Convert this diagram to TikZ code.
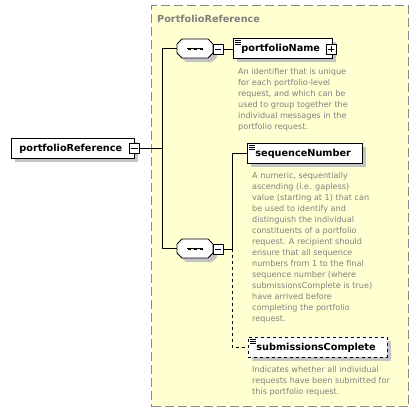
\documentclass[tikz,border=0pt]{standalone}
\usepackage{fontspec}
\setmainfont{DejaVu Sans}
\definecolor{panel}{HTML}{FFFFD2}
\definecolor{panelborder}{HTML}{8A8A8A}
\definecolor{desc}{HTML}{808080}
\definecolor{shade}{HTML}{C4C4C4}
\begin{document}
\begin{tikzpicture}[x=1pt,y=-1pt,
  shadowed/.style={preaction={fill=shade, transform canvas={xshift=4pt,yshift=-4pt}}},
  elem/.style={draw=black, line width=0.9pt, fill=white, anchor=north west, inner xsep=8pt, inner ysep=0pt,
    minimum height=20pt, align=left, font=\fontsize{9.7}{11}\selectfont\bfseries, shadowed},
  pm/.style={draw=black, line width=0.8pt, fill=white, minimum size=10pt, inner sep=0pt},
  seqbox/.style={minimum width=36pt, minimum height=19pt, inner sep=0pt},
  octa/.style={draw=black, line width=0.8pt, fill=white, shadowed},
  descr/.style={anchor=north west, inner sep=0pt, align=left, text=desc, font=\fontsize{8.1}{11}\selectfont},
  conn/.style={draw=black, line width=0.9pt}
]
\useasboundingbox (0,0) rectangle (418,413);
% panel
\node[draw=panelborder, fill=panel, line width=1.2pt, dash pattern=on 9pt off 4pt, anchor=north west,
  minimum width=257pt, minimum height=401pt, inner sep=0pt] (panel) at (151,5) {};
\node[anchor=base west, inner sep=0pt, text=desc, font=\fontsize{9.7}{11}\selectfont\bfseries] (title) at (157,22) {PortfolioReference};

% root element
\node[elem, text width=107pt] (pr) at (11,138) {portfolioReference};
\node[pm] (prm) at (134.5,148.5) {};
\draw[line width=0.8pt] ([xshift=2pt]prm.west) -- ([xshift=-2pt]prm.east);

% sequence compositors
\node[seqbox] (s1) at (195,48.5) {};
\node[seqbox] (s2) at (195,248.5) {};
\foreach \s in {s1,s2}{
  \begin{scope}[shift={(\s.center)}]
    \draw[octa] (-18,-4.5) -- (-13,-9.5) -- (13,-9.5) -- (18,-4.5) -- (18,4.5) -- (13,9.5) -- (-13,9.5) -- (-18,4.5) -- cycle;
    \draw[line width=0.8pt] (-8,0) -- (8,0);
    \foreach \dx in {-6,0,6}
      \fill (\dx-1.5,-1) rectangle (\dx+1.5,1);
  \end{scope}
}
\node[pm] (s1m) at (218,49) {};
\draw[line width=0.8pt] ([xshift=2pt]s1m.west) -- ([xshift=-2pt]s1m.east);
\node[pm] (s2m) at (218,249) {};
\draw[line width=0.8pt] ([xshift=2pt]s2m.west) -- ([xshift=-2pt]s2m.east);

% child elements
\node[elem, text width=83pt] (pn) at (233,38) {portfolioName};
\node[pm] (pnp) at (331,49) {};
\draw[line width=0.8pt] ([xshift=2pt]pnp.west) -- ([xshift=-2pt]pnp.east);
\draw[line width=0.8pt] ([yshift=2pt]pnp.south) -- ([yshift=-2pt]pnp.north);

\node[elem, text width=99pt] (sn) at (247,143) {sequenceNumber};
\node[elem, dashed, text width=123pt] (sc) at (248,337) {submissionsComplete};

% element icons
\foreach \e in {pn,sn,sc}{
  \foreach \dy in {2,4,6}
    \draw[line width=0.6pt] ([xshift=2pt,yshift=-\dy pt]\e.north west) -- ([xshift=8pt,yshift=-\dy pt]\e.north west);
}

% descriptions
\node[descr] (d1) at (238,68) {An identifier that is unique\\for each portfolio-level\\request, and which can be\\used to group together the\\individual messages in the\\portfolio request.};
\node[descr] (d2) at (252,172) {A numeric, sequentially\\ascending (i.e. gapless)\\value (starting at 1) that can\\be used to identify and\\distinguish the individual\\constituents of a portfolio\\request. A recipient should\\ensure that all sequence\\numbers from 1 to the final\\sequence number (where\\submissionsComplete is true)\\have arrived before\\completing the portfolio\\request.};
\node[descr] (d3) at (252,366) {Indicates whether all individual\\requests have been submitted for\\this portfolio request.};

% connectors
\coordinate (j1) at (163,148.5);
\coordinate (j2) at (232,249);
\draw[conn] (prm.east) -- (j1);
\draw[conn] (s1.west) -- ++(-14,0) |- (s2.west);
\draw[conn] (s1m.east) -- (pn.west |- s1m.east);
\draw[conn] (s2m.east) -- (j2) |- (sn.west);
\draw[conn, dashed] (j2) |- (sc.west);
\end{tikzpicture}
\end{document}
